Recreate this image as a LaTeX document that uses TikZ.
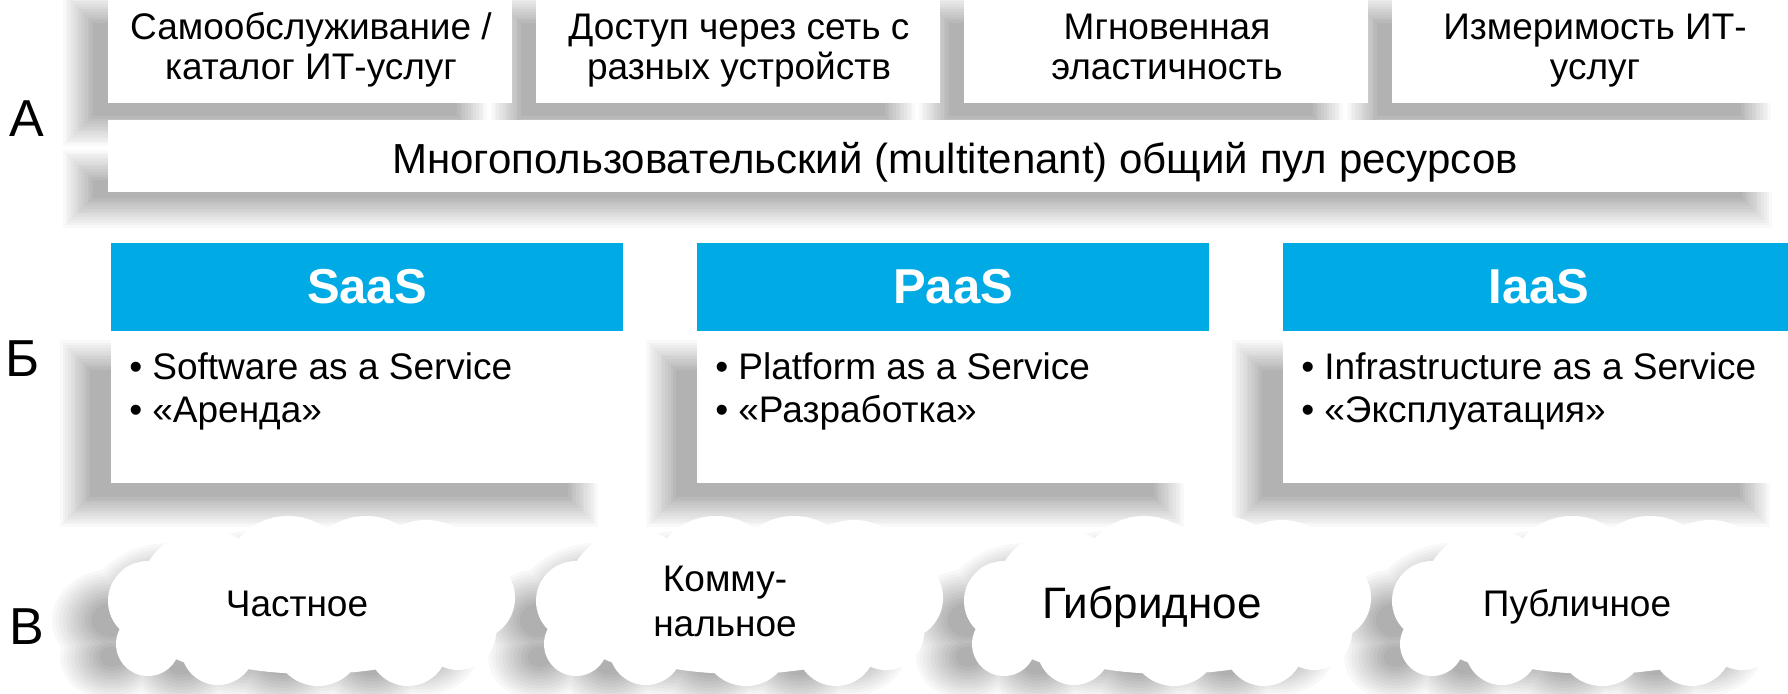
\documentclass[tikz,border=0pt]{standalone}
\usepackage{fontspec}
\setmainfont{Liberation Sans}
\definecolor{hdrblue}{RGB}{0,170,228}
\newcommand\twol[2]{\begin{tabular}[t]{@{}c@{}}#1\\#2\end{tabular}}
\tikzset{
 topbox/.style={fill=white, minimum width=202pt, minimum height=54pt, inner sep=0},
 poolbox/.style={fill=white, minimum width=844.5pt, minimum height=36pt, inner sep=0},
 hdr/.style={fill=hdrblue, minimum width=256pt, minimum height=44pt, inner sep=0, text=white, font=\fontsize{24.5}{28}\selectfont\bfseries},
 bodybox/.style={fill=white, minimum width=256pt, minimum height=76pt, inner sep=0},
 txt/.style={inner sep=0, anchor=base, font=\fontsize{18.5}{20}\selectfont},
 btxt/.style={inner sep=0, anchor=base west, font=\fontsize{18.5}{19}\selectfont},
 lbl/.style={inner sep=0, anchor=base, font=\fontsize{26}{30}\selectfont},
}
\newcommand\bul{\makebox[11.5pt][l]{•}}
% union of puffs forming a cloud in a 404 x 170 box (local px)
\newcommand\cloudunion[1]{%
 (40,85) circle[radius={40+(#1)}]
 (40,128) circle[radius={32+(#1)}]
 (98,82) circle[radius={68+(#1)}]
 (180,65) circle[radius={65+(#1)}]
 (258,65) circle[radius={65+(#1)}]
 (318,66) circle[radius={62+(#1)}]
 (365,82) circle[radius={42+(#1)}]
 (350,116) circle[radius={38+(#1)}]
 (300,130) circle[radius={40+(#1)}]
 (210,125) circle[radius={45+(#1)}]
 (110,132) circle[radius={37+(#1)}]
 (205,102) ellipse[x radius={160+(#1)}, y radius={56+(#1)}]
}
\begin{document}
\begin{tikzpicture}[x=0.5pt,y=-0.5pt]
\useasboundingbox (0,0) rectangle (1788,694);
\fill[white] (0,0) rectangle (1788,694);
% soft shadows of rectangles
\foreach \k in {0,...,11}{
  \pgfmathsetmacro\shd{-15+30*\k/11}
  \pgfmathsetmacro\shc{30*(\k+1)/12}
  \foreach \xa/\ya/\xb/\yb in {78/8/472/131, 506/8/900/131, 934/8/1328/131, 1362/8/1756/131,
      78/165/1757/213,
      75/355/583/512, 661/355/1169/512, 1247/355/1755/512}{
    \fill[black!\shc] ({\xa+(\shd)},{\ya+(\shd)}) rectangle ({\xb-(\shd)},{\yb-(\shd)});
  }
}
% soft shadows of clouds
\foreach \k in {0,...,11}{
  \pgfmathsetmacro\shd{20-40*\k/11}
  \pgfmathsetmacro\shc{31*(\k+1)/12}
  \foreach \L in {108,536,964,1392}{
    \begin{scope}[shift={(\L-36,548)}, yscale=0.85]
      \fill[black!\shc] \cloudunion{\shd};
    \end{scope}
  }
}
% section A
\node[topbox] (t1) at (310,49) {};
\node[topbox] (t2) at (738,49) {};
\node[topbox] (t3) at (1166,49) {};
\node[topbox] (t4) at (1594,49) {};
\node[txt] (t1t) at (311,40) {\twol{Самообслуживание /}{каталог ИТ-услуг}};
\node[txt] (t2t) at (739,40) {\twol{Доступ через сеть с}{разных устройств}};
\node[txt] (t3t) at (1167,40) {\twol{Мгновенная}{эластичность}};
\node[txt] (t4t) at (1595,40) {\twol{Измеримость ИТ-}{услуг}};
\node[poolbox] (pool) at (952.5,156) {};
\node[txt, font=\fontsize{21}{24}\selectfont] (poolt) at (955,174) {Многопользовательский (multitenant) общий пул ресурсов};
% section B
\node[hdr] (h1) at (367,287) {SaaS};
\node[hdr] (h2) at (953,287) {PaaS};
\node[hdr] (h3) at (1539,287) {IaaS};
\node[bodybox] (b1) at (367,407) {};
\node[bodybox] (b2) at (953,407) {};
\node[bodybox] (b3) at (1539,407) {};
\node[btxt] (b1a) at (129,380) {\bul Software as a Service};
\node[btxt] (b1b) at (129,423) {\bul «Аренда»};
\node[btxt] (b2a) at (715,380) {\bul Platform as a Service};
\node[btxt] (b2b) at (715,423) {\bul «Разработка»};
\node[btxt] (b3a) at (1301,380) {\bul Infrastructure as a Service};
\node[btxt] (b3b) at (1301,423) {\bul «Эксплуатация»};
% section C: clouds
\foreach \L in {108,536,964,1392}{
  \begin{scope}[shift={(\L,516)}]
    \fill[white] \cloudunion{0};
  \end{scope}
}
\node[txt] (c1t) at (297,617) {Частное};
\node[txt, font=\fontsize{18.5}{22}\selectfont] (c2t) at (725,592) {\twol{Комму-}{нальное}};
\node[txt, font=\fontsize{22}{24}\selectfont] (c3t) at (1152,618) {Гибридное};
\node[txt] (c4t) at (1577,617) {Публичное};
% row labels
\node[lbl] (la) at (27,137) {А};
\node[lbl] (lb) at (23,377) {Б};
\node[lbl] (lc) at (27,645) {В};
\end{tikzpicture}
\end{document}
